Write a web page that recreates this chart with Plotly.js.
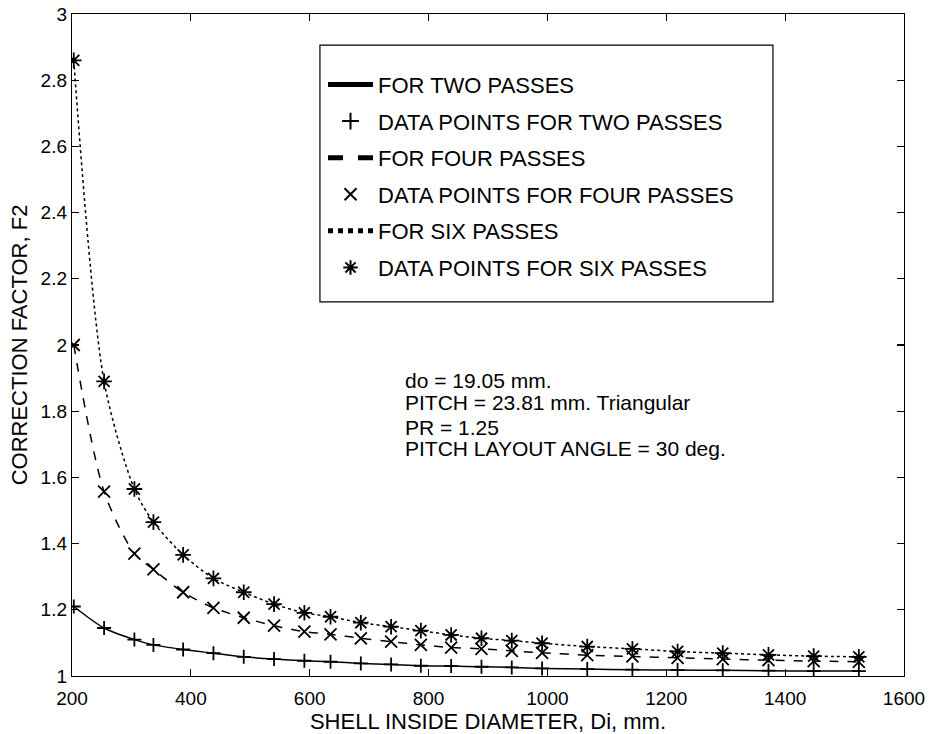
<!DOCTYPE html>
<html>
<head>
<meta charset="utf-8">
<script src="https://cdn.plot.ly/plotly-3.0.1.min.js"></script>
<style>html,body{margin:0;padding:0;background:#fff;}#chart{width:934px;height:734px;}</style>
</head>
<body>
<div id="chart"></div>
<script>
// Shell inside diameters (mm)
const diameters = [203, 254, 305, 337, 387, 438, 489, 540, 591, 635, 686, 737, 787, 838, 889, 940, 991, 1067, 1143, 1219, 1295, 1372, 1448, 1524];
// Correction factor F2
const twoPasses  = [1.21, 1.145, 1.11, 1.094, 1.08, 1.069, 1.058, 1.051, 1.046, 1.043, 1.038, 1.035, 1.031, 1.030, 1.028, 1.026, 1.023, 1.021, 1.019, 1.018, 1.017, 1.016, 1.015, 1.015];
const fourPasses = [2.0, 1.557, 1.37, 1.322, 1.253, 1.206, 1.176, 1.152, 1.134, 1.126, 1.114, 1.104, 1.094, 1.086, 1.082, 1.076, 1.07, 1.063, 1.059, 1.055, 1.051, 1.048, 1.045, 1.043];
const sixPasses  = [2.86, 1.89, 1.565, 1.465, 1.366, 1.295, 1.253, 1.217, 1.191, 1.179, 1.161, 1.149, 1.137, 1.124, 1.114, 1.107, 1.099, 1.089, 1.082, 1.074, 1.069, 1.064, 1.06, 1.058];

const legendNames = ["FOR TWO PASSES", "DATA POINTS FOR TWO PASSES", "FOR FOUR PASSES",
  "DATA POINTS FOR FOUR PASSES", "FOR SIX PASSES", "DATA POINTS FOR SIX PASSES"];
const noteLines = ["do = 19.05 mm.", "PITCH = 23.81 mm. Triangular", "PR = 1.25", "PITCH LAYOUT ANGLE = 30 deg."];

const FONT = "Liberation Sans, Arial, Helvetica, sans-serif";

function lineTrace(y, dash, name, g) {
  return {x: diameters, y: y, mode: "lines", name: name, legendgroup: g,
    line: {color: "#000", width: 1.5, dash: dash, shape: "spline", smoothing: 0.8}};
}
function ptTrace(y, symbol, size, name, g) {
  return {x: diameters, y: y, mode: "markers", name: name, legendgroup: g,
    marker: {symbol: symbol, size: size, color: "#000", line: {color: "#000", width: 1.8}}};
}

const data = [
  lineTrace(twoPasses, "solid", legendNames[0], "a"),
  ptTrace(twoPasses, "cross-thin-open", 10, legendNames[1], "b"),
  lineTrace(fourPasses, "dash", legendNames[2], "c"),
  ptTrace(fourPasses, "x-thin-open", 12, legendNames[3], "d"),
  lineTrace(sixPasses, "dot", legendNames[4], "e"),
  ptTrace(sixPasses, "asterisk-open", 13, legendNames[5], "f")
];

const noteY = [0.447, 0.4124, 0.376, 0.344];
const annotations = noteLines.map((t, i) => ({
  xref: "paper", yref: "paper", x: 0.398, y: noteY[i], xanchor: "left", yanchor: "middle",
  text: t, showarrow: false, font: {family: FONT, size: 21, color: "#000"}
}));

const axisCommon = {
  showline: true, linecolor: "#000", linewidth: 1.2, mirror: "ticks",
  ticks: "inside", ticklen: 7, tickcolor: "#000", tickwidth: 1.2,
  showgrid: false, zeroline: false,
  tickfont: {family: FONT, size: 19, color: "#000"}
};

const layout = {
  width: 934, height: 734,
  margin: {l: 72, r: 30, t: 14, b: 58},
  paper_bgcolor: "#fff", plot_bgcolor: "#fff",
  font: {family: FONT, color: "#000"},
  xaxis: Object.assign({}, axisCommon, {
    range: [200, 1600], tick0: 200, dtick: 200, ticklabelstandoff: 5,
    title: {text: "SHELL INSIDE DIAMETER, Di, mm.", font: {family: FONT, size: 22, color: "#000"}, standoff: 0}
  }),
  yaxis: Object.assign({}, axisCommon, {
    range: [1, 3], tick0: 1, dtick: 0.2,
    title: {text: "CORRECTION FACTOR, F2", font: {family: FONT, size: 22, color: "#000"}, standoff: 6}
  }),
  showlegend: true,
  legend: {
    x: 0.3017, y: 0.925, xanchor: "left", yanchor: "top",
    bgcolor: "rgba(0,0,0,0)", borderwidth: 0,
    font: {family: FONT, size: 22, color: "#000"},
    tracegroupgap: 5, itemsizing: "constant", itemwidth: 45
  },
  shapes: [{
    type: "rect", xref: "paper", yref: "paper",
    x0: 0.298, x1: 0.8425, y0: 0.565, y1: 0.953,
    line: {color: "#000", width: 1.2}, fillcolor: "rgba(0,0,0,0)"
  }],
  annotations: annotations
};

Plotly.newPlot("chart", data, layout, {displayModeBar: false, staticPlot: true});
</script>
</body>
</html>
